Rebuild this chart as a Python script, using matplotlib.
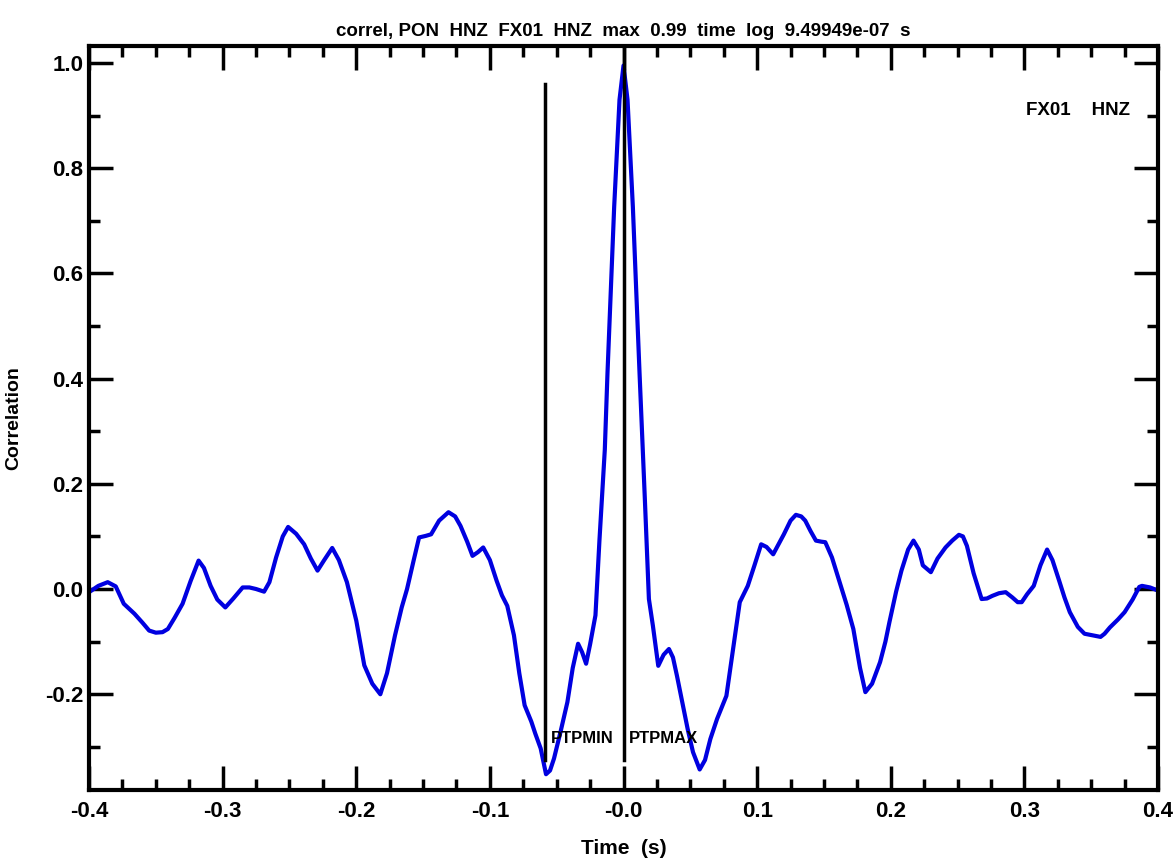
import numpy as np
import matplotlib
matplotlib.use("Agg")
import matplotlib.pyplot as plt
from matplotlib.ticker import MultipleLocator

plt.rcParams['font.family'] = ['Liberation Sans', 'DejaVu Sans']
plt.rcParams['font.weight'] = 'bold'
plt.rcParams['axes.titleweight'] = 'bold'
plt.rcParams['axes.labelweight'] = 'bold'

# Correlation curve (time lag in s, correlation)
lag = [-0.400, -0.393, -0.386, -0.380, -0.374, -0.366, -0.360, -0.355, -0.350, -0.345,
       -0.341, -0.336, -0.330, -0.324, -0.318, -0.314, -0.309, -0.304, -0.298, -0.292,
       -0.285, -0.280, -0.275, -0.269, -0.265, -0.260, -0.255, -0.251, -0.245, -0.239,
       -0.234, -0.229, -0.224, -0.218, -0.213, -0.207, -0.200, -0.194, -0.188, -0.182,
       -0.177, -0.171, -0.166, -0.162, -0.157, -0.153, -0.148, -0.144, -0.138, -0.131,
       -0.126, -0.122, -0.117, -0.113, -0.109, -0.105, -0.100, -0.095, -0.091, -0.087,
       -0.082, -0.078, -0.074, -0.069, -0.066, -0.062, -0.058, -0.055, -0.052, -0.047,
       -0.042, -0.038, -0.034, -0.031, -0.028, -0.025, -0.021, -0.018, -0.014, -0.012,
       -0.007, -0.003, 0.000, 0.003, 0.007, 0.012, 0.016, 0.019, 0.022, 0.026,
       0.030, 0.034, 0.037, 0.040, 0.044, 0.048, 0.052, 0.057, 0.061, 0.065,
       0.070, 0.077, 0.080, 0.084, 0.087, 0.093, 0.098, 0.103, 0.107, 0.112,
       0.116, 0.120, 0.125, 0.129, 0.133, 0.136, 0.140, 0.144, 0.148, 0.151,
       0.156, 0.161, 0.167, 0.172, 0.177, 0.181, 0.186, 0.192, 0.196, 0.199,
       0.204, 0.208, 0.213, 0.217, 0.221, 0.224, 0.230, 0.235, 0.241, 0.246,
       0.251, 0.254, 0.257, 0.262, 0.268, 0.272, 0.276, 0.281, 0.286, 0.291,
       0.295, 0.298, 0.302, 0.307, 0.312, 0.317, 0.321, 0.326, 0.330, 0.334,
       0.340, 0.345, 0.351, 0.357, 0.360, 0.364, 0.370, 0.375, 0.381, 0.386,
       0.388, 0.394, 0.400]
correl = [-0.006, 0.006, 0.013, 0.005, -0.028, -0.047, -0.064, -0.079, -0.083, -0.082,
          -0.076, -0.055, -0.028, 0.015, 0.054, 0.040, 0.006, -0.020, -0.035, -0.018,
          0.003, 0.003, 0.000, -0.005, 0.013, 0.060, 0.100, 0.118, 0.105, 0.085,
          0.058, 0.035, 0.055, 0.078, 0.055, 0.013, -0.060, -0.145, -0.180, -0.200,
          -0.160, -0.088, -0.035, 0.000, 0.055, 0.098, 0.101, 0.104, 0.130, 0.146,
          0.138, 0.120, 0.090, 0.063, 0.070, 0.079, 0.055, 0.016, -0.012, -0.032,
          -0.088, -0.160, -0.221, -0.252, -0.275, -0.303, -0.352, -0.345, -0.322, -0.270,
          -0.215, -0.150, -0.104, -0.120, -0.142, -0.105, -0.050, 0.093, 0.265, 0.410,
          0.726, 0.930, 0.995, 0.930, 0.726, 0.410, 0.169, -0.019, -0.070, -0.146,
          -0.125, -0.114, -0.130, -0.165, -0.215, -0.266, -0.310, -0.343, -0.325, -0.285,
          -0.247, -0.203, -0.150, -0.080, -0.025, 0.006, 0.045, 0.085, 0.080, 0.066,
          0.085, 0.104, 0.130, 0.141, 0.138, 0.130, 0.110, 0.092, 0.090, 0.089,
          0.060, 0.019, -0.030, -0.076, -0.150, -0.196, -0.180, -0.139, -0.100, -0.063,
          -0.005, 0.035, 0.075, 0.092, 0.075, 0.045, 0.032, 0.058, 0.079, 0.092,
          0.103, 0.100, 0.082, 0.030, -0.019, -0.018, -0.013, -0.008, -0.006, -0.016,
          -0.025, -0.025, -0.010, 0.006, 0.045, 0.075, 0.055, 0.016, -0.016, -0.044,
          -0.072, -0.085, -0.088, -0.091, -0.085, -0.073, -0.058, -0.044, -0.020, 0.004,
          0.006, 0.003, -0.003]

# picks
ptp_min = -0.0584
ptp_max = 0.0
xtick_vals = [-0.4, -0.3, -0.2, -0.1, 0.0, 0.1, 0.2, 0.3, 0.4]
xtick_text = ['-0.4', '-0.3', '-0.2', '-0.1', '-0.0', '0.1', '0.2', '0.3', '0.4']
ytick_vals = [-0.2, 0.0, 0.2, 0.4, 0.6, 0.8, 1.0]
ytick_text = ['-0.2', '0.0', '0.2', '0.4', '0.6', '0.8', '1.0']

fig = plt.figure(figsize=(11.76, 8.63), dpi=100)
ax = fig.add_axes([0.0757, 0.0846, 0.909, 0.862])

ax.plot(lag, correl, color='#0000e0', lw=3, solid_joinstyle='round')
ax.plot([ptp_min, ptp_min], [-0.325, 0.96], color='black', lw=2.5)
ax.plot([ptp_max, ptp_max], [-0.325, 1.04], color='black', lw=2.5)
ax.text(ptp_min + 0.004, -0.285, 'PTPMIN', fontsize=12, va='center', ha='left')
ax.text(ptp_max + 0.004, -0.285, 'PTPMAX', fontsize=12, va='center', ha='left')
ax.text(0.301, 0.909, 'FX01    HNZ', fontsize=13.5, va='center', ha='left')

ax.set_xlim(-0.4, 0.4)
ax.set_ylim(-0.382, 1.032)
ax.set_xticks(xtick_vals)
ax.set_xticklabels(xtick_text, fontsize=16)
ax.set_yticks(ytick_vals)
ax.set_yticklabels(ytick_text, fontsize=16)
ax.xaxis.set_minor_locator(MultipleLocator(0.025))
ax.yaxis.set_minor_locator(MultipleLocator(0.1))
ax.tick_params(which='both', direction='in', top=True, right=True, width=2.5, color='black')
ax.tick_params(which='major', length=17)
ax.tick_params(axis='x', which='major', pad=8)
ax.tick_params(axis='y', which='major', pad=4)
ax.tick_params(which='minor', length=8)
for s in ax.spines.values():
    s.set_linewidth(3)

ax.set_title('correl, PON  HNZ  FX01  HNZ  max  0.99  time  log  9.49949e-07  s', fontsize=13.5, pad=7)
ax.set_xlabel('Time  (s)', fontsize=15)
ax.set_ylabel('Correlation', fontsize=14)
ax.xaxis.set_label_coords(0.5, -0.066)
ax.yaxis.set_label_coords(-0.062, 0.5)

fig.savefig('out.png', dpi=100)
